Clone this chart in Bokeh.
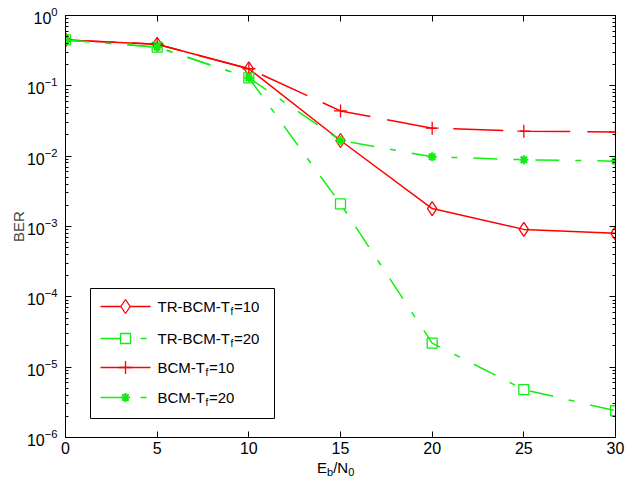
from bokeh.plotting import figure
from bokeh.layouts import column
from bokeh.models import (LinearAxis, FixedTicker, Label, Range1d, Div,
                          CustomJSTickFormatter)
from bokeh.embed import file_html
from bokeh.resources import INLINE

# Eb/N0 (dB) and bit error rates of the four schemes
snr_db = [0, 5, 10, 15, 20, 25, 30]
ber_tr_bcm_tf10 = [0.45, 0.39, 0.175, 0.0167, 0.0018, 0.00091, 0.00080]
ber_tr_bcm_tf20 = [0.45, 0.355, 0.13, 0.0021, 2.2e-5, 4.8e-6, 2.4e-6]
ber_bcm_tf10 = [0.45, 0.39, 0.175, 0.044, 0.025, 0.0227, 0.022]
ber_bcm_tf20 = [0.45, 0.355, 0.13, 0.0167, 0.0098, 0.0089, 0.0085]

x_ticks = [0, 5, 10, 15, 20, 25, 30]
y_decades = [1e-6, 1e-5, 1e-4, 1e-3, 1e-2, 1e-1, 1.0]
y_minor = [m * d for d in y_decades[:-1] for m in range(2, 10)]

FONT = "Liberation Sans"
RED = "#ff0000"
GREEN = "#11ee11"

W = 627
H_PLOT, H_TITLE = 460, 18
B_LEFT, B_RIGHT, B_TOP, B_BOTTOM = 65, 12, 15, 23
X0, X1 = 0.0, 30.0
LOG0, LOG1 = -6.0, 0.0

p = figure(width=W, height=H_PLOT, y_axis_type="log",
           x_range=Range1d(X0, X1), y_range=Range1d(10 ** LOG0, 10 ** LOG1),
           output_backend="svg", toolbar_location=None,
           min_border_left=B_LEFT, min_border_right=B_RIGHT,
           min_border_top=B_TOP, min_border_bottom=B_BOTTOM)
p.grid.visible = False
p.outline_line_color = "black"
p.outline_line_width = 1
p.background_fill_color = "white"
p.border_fill_color = "white"


def style_axis(ax, label_size="16px"):
    ax.axis_line_color = "black"
    ax.major_tick_line_color = "black"
    ax.minor_tick_line_color = "black"
    ax.major_tick_in = 6
    ax.major_tick_out = 0
    ax.minor_tick_in = 3
    ax.minor_tick_out = 0
    ax.major_label_text_font = FONT
    ax.major_label_text_font_size = label_size
    ax.major_label_text_color = "black"


xa = p.xaxis[0]
xa.ticker = FixedTicker(ticks=x_ticks)
style_axis(xa)
xa.major_label_standoff = 4

ya = p.yaxis[0]
ya.ticker = FixedTicker(ticks=y_decades, minor_ticks=y_minor)
style_axis(ya)
ya.major_label_standoff = 8
ya.axis_label = "BER"
ya.axis_label_text_font = FONT
ya.axis_label_text_font_size = "15px"
ya.axis_label_text_font_style = "normal"
ya.axis_label_standoff = -3

blank = CustomJSTickFormatter(code="return ''")
top_ax = LinearAxis(ticker=FixedTicker(ticks=x_ticks), formatter=blank)
style_axis(top_ax)
p.add_layout(top_ax, "above")
right_ax = LinearAxis(ticker=FixedTicker(ticks=y_decades, minor_ticks=y_minor),
                      formatter=blank)
style_axis(right_ax)
p.add_layout(right_ax, "right")

DASH = "50 17"
DASHDOT = "24 16 6 16"
LW = 1.5

# curves, drawn in legend order
p.line(snr_db, ber_tr_bcm_tf10, line_color=RED, line_width=LW)
p.scatter(snr_db, ber_tr_bcm_tf10, marker="diamond", size=14,
          line_color=RED, fill_color=None, line_width=1.3)

p.line(snr_db, ber_tr_bcm_tf20, line_color=GREEN, line_width=LW, line_dash=DASHDOT)
p.scatter(snr_db, ber_tr_bcm_tf20, marker="square", size=10,
          line_color=GREEN, fill_color=None, line_width=1.3)

p.line(snr_db, ber_bcm_tf10, line_color=RED, line_width=LW, line_dash=DASH)
p.scatter(snr_db, ber_bcm_tf10, marker="cross", size=13,
          line_color=RED, line_width=1.3)

p.line(snr_db, ber_bcm_tf20, line_color=GREEN, line_width=LW, line_dash=DASHDOT)
p.scatter(snr_db, ber_bcm_tf20, marker="asterisk", size=9,
          line_color=GREEN, line_width=2.2)

# ---- legend, laid out in pixels and mapped into data space ----
FRAME_W = W - B_LEFT - B_RIGHT
FRAME_H = H_PLOT - B_TOP - B_BOTTOM


def dx(px):
    return X0 + (px - B_LEFT) / FRAME_W * (X1 - X0)


def dy(py):
    return 10 ** (LOG1 - (py - B_TOP) / FRAME_H * (LOG1 - LOG0))


box_l, box_r, box_t, box_b = 90, 274, 288, 418
p.quad(left=[dx(box_l)], right=[dx(box_r)], top=[dy(box_t)], bottom=[dy(box_b)],
       fill_color="white", line_color="black", line_width=1)

legend_rows = [
    ("TR-BCM-T", "=10", RED, None, "diamond", 14, 72.5),
    ("TR-BCM-T", "=20", GREEN, DASHDOT, "square", 10, 72.5),
    ("BCM-T", "=10", RED, DASH, "cross", 13, 47.5),
    ("BCM-T", "=20", GREEN, DASHDOT, "asterisk", 9, 47.5),
]
row_y = [306, 338, 367, 397]
line_x0, line_x1, text_x = 100, 150, 157

for (head, tail, color, dash, marker, msize, head_w), py in zip(legend_rows, row_y):
    kw = {} if dash is None else {"line_dash": dash}
    p.line([dx(line_x0), dx(line_x1)], [dy(py), dy(py)], line_color=color,
           line_width=LW, **kw)
    if marker == "asterisk":
        p.scatter([dx((line_x0 + line_x1) / 2)], [dy(py)], marker=marker,
                  size=msize, line_color=color, line_width=2.2)
    elif marker == "cross":
        p.scatter([dx((line_x0 + line_x1) / 2)], [dy(py)], marker=marker,
                  size=msize, line_color=color, line_width=1.3)
    else:
        p.scatter([dx((line_x0 + line_x1) / 2)], [dy(py)], marker=marker,
                  size=msize, line_color=color, fill_color="white", line_width=1.3)
    common = dict(x=dx(text_x), y=dy(py), text_font=FONT, text_color="black")
    p.add_layout(Label(text=head, text_font_size="15px", text_baseline="middle",
                       **common))
    p.add_layout(Label(text="f", text_font_size="10px", text_baseline="middle",
                       x_offset=head_w + 0.5, y_offset=-5, **common))
    p.add_layout(Label(text=tail, text_font_size="15px", text_baseline="middle",
                       x_offset=head_w + 4, **common))

# x-axis title, E_b/N_0, in a strip under the plot
SUB = 'style="font-size:11px;position:relative;top:3px;vertical-align:baseline"'
x_title = Div(
    text=f'<span style="margin-left:317px">E<span {SUB}>b</span>'
         f'/N<span {SUB}>0</span></span>',
    width=W, height=H_TITLE, margin=0,
    styles={"font-family": FONT, "font-size": "15px", "line-height": "15px",
            "color": "black", "white-space": "nowrap",
            "background-color": "white"})

layout = column(p, x_title, spacing=0)
open("out.html", "w").write(file_html(layout, INLINE))
